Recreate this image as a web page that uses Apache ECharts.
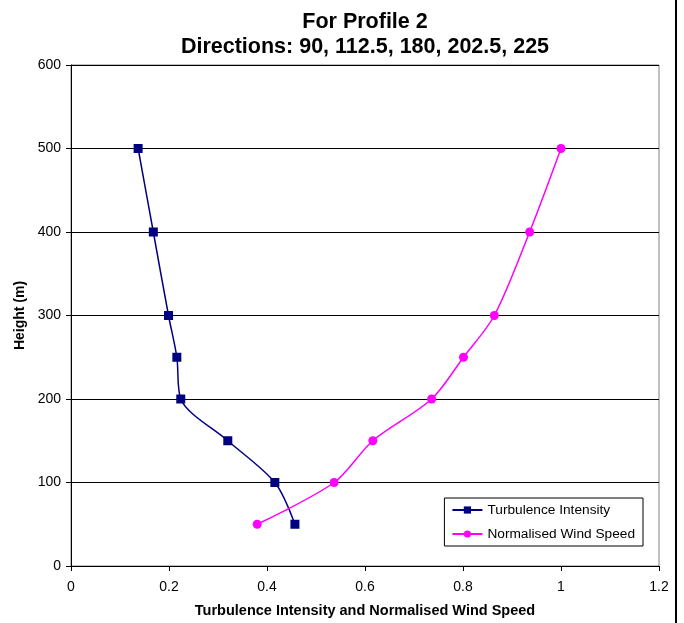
<!DOCTYPE html>
<html>
<head>
<meta charset="utf-8">
<script src="https://cdn.jsdelivr.net/npm/echarts@6/dist/echarts.min.js"></script>
<style>
  html, body { margin: 0; padding: 0; background: #fff; }
  #chart { width: 684px; height: 623px; }
</style>
</head>
<body>
<div id="chart"></div>
<script>
// heights (m)
var heights = [50, 100, 150, 200, 250, 300, 400, 500];
// turbulence intensity at each height
var turbulence = [0.457, 0.416, 0.320, 0.224, 0.216, 0.199, 0.168, 0.137];
// normalised wind speed at each height
var windSpeed = [0.380, 0.537, 0.616, 0.736, 0.801, 0.864, 0.936, 1.0];

function pairs(xs) {
    var out = [];
    for (var i = 0; i < xs.length; i++) {
        out.push([xs[i], heights[i]]);
    }
    return out;
}

var myChart = echarts.init(document.getElementById('chart'));
var font = 'Liberation Sans, Arial, sans-serif';

var option = {
    backgroundColor: '#fff',
    animation: false,
    title: {
        text: 'For Profile 2\nDirections: 90, 112.5, 180, 202.5, 225',
        left: 360,
        top: 5,
        textAlign: 'center',
        textStyle: {
            fontFamily: font,
            fontSize: 21.5,
            fontWeight: 'bold',
            color: '#000',
            lineHeight: 25
        }
    },
    grid: {
        left: 71,
        top: 65,
        right: 25,
        bottom: 57,
        show: true,
        borderColor: '#808080',
        borderWidth: 1
    },
    legend: {
        orient: 'vertical',
        right: 41,
        bottom: 77,
        backgroundColor: '#fff',
        borderColor: '#000',
        borderWidth: 1,
        padding: [5, 8, 5, 7],
        itemGap: 10,
        itemWidth: 30,
        itemHeight: 9,
        textStyle: { fontFamily: font, fontSize: 13.7, color: '#000' },
        data: ['Turbulence Intensity', 'Normalised Wind Speed']
    },
    xAxis: {
        type: 'value',
        min: 0,
        max: 1.2,
        interval: 0.2,
        name: 'Turbulence Intensity and Normalised Wind Speed',
        nameLocation: 'middle',
        nameGap: 37,
        nameTextStyle: { fontFamily: font, fontSize: 14.5, fontWeight: 'bold', color: '#000' },
        axisLine: { lineStyle: { color: '#000', width: 1 } },
        axisTick: { show: true, inside: false, length: 5, lineStyle: { color: '#000' } },
        axisLabel: { fontFamily: font, fontSize: 14, color: '#000', margin: 14 },
        splitLine: { show: false }
    },
    yAxis: {
        type: 'value',
        min: 0,
        max: 600,
        interval: 100,
        name: 'Height (m)',
        nameLocation: 'middle',
        nameGap: 44,
        nameTextStyle: { fontFamily: font, fontSize: 14, fontWeight: 'bold', color: '#000' },
        axisLine: { show: true, lineStyle: { color: '#000', width: 1 } },
        axisTick: { show: true, inside: false, length: 5, lineStyle: { color: '#000' } },
        axisLabel: { fontFamily: font, fontSize: 14, color: '#000', margin: 10 },
        splitLine: { show: true, lineStyle: { color: '#000', width: 1 } }
    },
    series: [
        {
            name: 'Turbulence Intensity',
            type: 'line',
            data: pairs(turbulence),
            smooth: 0.3,
            symbol: 'rect',
            symbolSize: 9,
            color: '#000080',
            lineStyle: { color: '#000080', width: 1.5 },
            itemStyle: { color: '#000080' }
        },
        {
            name: 'Normalised Wind Speed',
            type: 'line',
            data: pairs(windSpeed),
            smooth: 0.3,
            symbol: 'circle',
            symbolSize: 9,
            color: '#ff00ff',
            lineStyle: { color: '#ff00ff', width: 1.5 },
            itemStyle: { color: '#ff00ff' }
        }
    ],
    graphic: [
        {
            type: 'line',
            shape: { x1: 676, y1: 0, x2: 676, y2: 623 },
            style: { stroke: '#000', lineWidth: 2 }
        }
    ]
};
myChart.setOption(option);
</script>
</body>
</html>
